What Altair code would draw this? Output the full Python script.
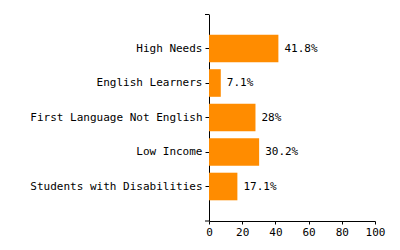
import altair as alt
import pandas as pd

categories = ["High Needs", "English Learners", "First Language Not English", "Low Income", "Students with Disabilities"]
values = [41.8, 7.1, 28, 30.2, 17.1]
x_ticks = [0, 20, 40, 60, 80, 100]

df = pd.DataFrame({"category": categories, "value": values})
FONT = "DejaVu Sans Mono"

y_enc = alt.Y("category:N", sort=categories,
              scale=alt.Scale(paddingInner=0.2, paddingOuter=0.6),
              axis=alt.Axis(title=None, grid=False, domainColor="black", tickColor="black",
                            tickSize=4, labelPadding=3, labelFont=FONT, labelFontSize=11,
                            labelColor="black", labelLimit=300))
x_enc = alt.X("value:Q", scale=alt.Scale(domain=[0, 100], nice=False),
              axis=alt.Axis(title=None, grid=False, values=x_ticks, domainColor="black",
                            tickColor="black", tickSize=3, labelPadding=2, labelFont=FONT,
                            labelFontSize=11, labelColor="black", labelFlush=False,
                            labelOverlap=False))

base = alt.Chart(df)
bars = base.mark_bar(color="#FF8C00").encode(x=x_enc, y=y_enc)
text = base.transform_calculate(label="datum.value + '%'").mark_text(
    align="left", baseline="middle", dx=6, font=FONT, fontSize=11, color="black"
).encode(x=x_enc, y=y_enc, text="label:N")

top_tick = alt.Chart(pd.DataFrame({"p": ["top"]})).mark_rule(color="black").encode(
    x=alt.value(-4), x2=alt.value(0), y=alt.value(0.5))
bottom_tick = alt.Chart(pd.DataFrame({"p": ["bottom"]})).mark_rule(color="black").encode(
    x=alt.value(-4), x2=alt.value(0), y=alt.value(207))

chart = alt.layer(bars, text, top_tick, bottom_tick).properties(
    width=166, height=207,
    padding={"left": 209, "top": 14, "right": 25, "bottom": 29},
    autosize=alt.AutoSizeParams(type="none"),
).configure_view(stroke=None).configure_axis(labelOverlap=False)

chart.save("out.html", embed_options={"renderer": "svg", "actions": False})
